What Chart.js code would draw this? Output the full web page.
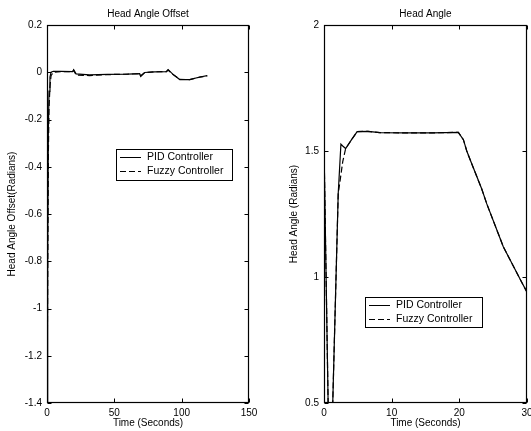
<!DOCTYPE html>
<html>
<head>
<meta charset="utf-8">
<script src="https://cdn.jsdelivr.net/npm/chart.js@4.4.1/dist/chart.umd.min.js"></script>
<style>
  html, body { margin: 0; padding: 0; background: #fff; overflow: hidden; }
  #wrap { position: relative; width: 531px; height: 431px; }
  canvas { position: absolute; top: 0; }
</style>
</head>
<body>
<div id="wrap">
  <canvas id="offsetCanvas" width="265" height="431" style="left:0"></canvas>
  <canvas id="angleCanvas" width="266" height="431" style="left:265px"></canvas>
</div>
<script>
// Left plot: head angle offset (radians) vs time (s)
const offsetTime  = [0, 0.5, 1.0, 1.5, 2.2, 3, 4.7, 10, 19.1, 19.8, 21.6, 31.5, 45, 60, 68.8, 69.6, 72.5, 80, 88.7, 89.9, 93.6, 98.6, 106, 113.5, 119];
const offsetPid   = [-1.4, -0.8, -0.25, -0.08, -0.02, 0.0, 0.004, 0.004, 0.003, 0.011, -0.007, -0.011, -0.009, -0.008, -0.006, -0.018, -0.001, 0.002, 0.003, 0.011, -0.009, -0.031, -0.031, -0.02, -0.014];
const offsetFuzzy = [-1.4, -0.9, -0.35, -0.15, -0.06, -0.015, 0.0, 0.003, 0.003, 0.009, -0.012, -0.014, -0.01, -0.008, -0.006, -0.015, -0.002, 0.002, 0.003, 0.009, -0.01, -0.03, -0.031, -0.021, -0.015];
const offsetXTicks = [0, 50, 100, 150];
const offsetYTicks = [-1.4, -1.2, -1, -0.8, -0.6, -0.4, -0.2, 0, 0.2];

// Right plot: head angle (radians) vs time (s)
const angleTime  = [0, 0.7, 1.0, 2.1, 2.5, 2.77, 3.2, 4.05, 4.9, 6.5, 8.25, 12, 16, 19.85, 20.6, 21.1, 21.6, 23.3, 24.06, 26.5, 29.2, 30];
const anglePid   = [1.52, 0.35, 0.2, 1.33, 1.527, 1.52, 1.51, 1.544, 1.577, 1.578, 1.573, 1.572, 1.572, 1.574, 1.545, 1.5, 1.465, 1.35, 1.29, 1.12, 0.98, 0.94];
const angleFuzzy = [1.52, 0.35, 0.2, 1.33, 1.406, 1.458, 1.51, 1.544, 1.577, 1.578, 1.573, 1.572, 1.572, 1.574, 1.545, 1.5, 1.465, 1.35, 1.29, 1.12, 0.98, 0.94];
const angleXTicks = [0, 10, 20, 30];
const angleYTicks = [0.5, 1, 1.5, 2];

const seriesNames = ['PID Controller', 'Fuzzy Controller'];

Chart.defaults.font.family = '"Liberation Sans", Arial, sans-serif';
Chart.defaults.font.size = 10;
Chart.defaults.color = '#000';

function toPoints(xs, ys) {
    return xs.map((x, i) => ({ x: x, y: ys[i] }));
}

// matlab style box, inward ticks on all sides and a boxed legend
const matlabFrame = {
    id: 'matlabFrame',
    afterDraw(chart, args, opts) {
        const ctx = chart.ctx;
        const a = chart.chartArea;
        const xs = chart.scales.x, ys = chart.scales.y;
        const l = Math.round(a.left) + 0.5, r = Math.round(a.right) - 0.5;
        const t = Math.round(a.top) + 0.5, b = Math.round(a.bottom) - 0.5;
        const len = 4;
        ctx.save();
        ctx.strokeStyle = '#000';
        ctx.lineWidth = 1.2;
        ctx.strokeRect(l, t, r - l, b - t);
        ctx.lineWidth = 1;
        ctx.beginPath();
        xs.ticks.forEach(tk => {
            const px = Math.round(xs.getPixelForValue(tk.value)) + 0.5;
            ctx.moveTo(px, b); ctx.lineTo(px, b - len);
            ctx.moveTo(px, t); ctx.lineTo(px, t + len);
        });
        ys.ticks.forEach(tk => {
            const py = Math.round(ys.getPixelForValue(tk.value)) + 0.5;
            ctx.moveTo(l, py); ctx.lineTo(l + len, py);
            ctx.moveTo(r, py); ctx.lineTo(r - len, py);
        });
        ctx.stroke();

        // legend
        const box = opts.box;
        ctx.fillStyle = '#fff';
        ctx.fillRect(box.x, box.y, box.w, box.h);
        ctx.strokeRect(box.x + 0.5, box.y + 0.5, box.w, box.h);
        ctx.font = '10.5px "Liberation Sans", Arial, sans-serif';
        ctx.textBaseline = 'middle';
        chart.data.datasets.forEach((ds, i) => {
            const y = Math.round(box.y + 8 + i * 13.5) + 0.5;
            ctx.setLineDash(ds.borderDash || []);
            ctx.beginPath();
            ctx.moveTo(box.x + 4, y);
            ctx.lineTo(box.x + 25, y);
            ctx.stroke();
            ctx.setLineDash([]);
            ctx.fillStyle = '#000';
            ctx.fillText(ds.label, box.x + 31, y);
        });
        ctx.restore();
    }
};

function makeChart(id, cfg) {
    return new Chart(document.getElementById(id), {
        type: 'line',
        data: {
            datasets: [
                {
                    label: seriesNames[0],
                    data: toPoints(cfg.time, cfg.pid),
                    borderColor: '#000',
                    borderWidth: 1.2,
                    pointRadius: 0,
                    tension: 0
                },
                {
                    label: seriesNames[1],
                    data: toPoints(cfg.time, cfg.fuzzy),
                    borderColor: '#000',
                    borderWidth: 1.2,
                    borderDash: [6, 3],
                    pointRadius: 0,
                    tension: 0
                }
            ]
        },
        options: {
            responsive: false,
            animation: false,
            events: [],
            layout: { padding: { left: 0, right: cfg.padRight, top: 0, bottom: 0 } },
            plugins: {
                legend: { display: false },
                tooltip: { enabled: false },
                title: {
                    display: true,
                    text: cfg.title,
                    fullSize: false,
                    color: '#000',
                    font: { size: 10, weight: 'normal' },
                    padding: { top: 8, bottom: 5 }
                },
                matlabFrame: { box: cfg.legendBox }
            },
            scales: {
                x: {
                    type: 'linear',
                    min: cfg.xTicks[0],
                    max: cfg.xTicks[cfg.xTicks.length - 1],
                    grid: { display: false, drawTicks: false },
                    border: { display: false },
                    afterBuildTicks: s => { s.ticks = cfg.xTicks.map(v => ({ value: v })); },
                    ticks: { padding: 4, maxRotation: 0, autoSkip: false, callback: v => String(v) },
                    title: { display: true, text: 'Time (Seconds)', padding: { top: 0, bottom: 2 } },
                    afterFit: s => { s.height = 28; s.paddingLeft = 0; s.paddingRight = 0; }
                },
                y: {
                    type: 'linear',
                    min: cfg.yTicks[0],
                    max: cfg.yTicks[cfg.yTicks.length - 1],
                    grid: { display: false, drawTicks: false },
                    border: { display: false },
                    afterBuildTicks: s => { s.ticks = cfg.yTicks.map(v => ({ value: v })); },
                    ticks: { padding: 5, autoSkip: false, callback: v => String(Math.round(v * 10) / 10) },
                    title: { display: true, text: cfg.yTitle, padding: { top: cfg.yTitlePad, bottom: 0 } },
                    afterFit: s => { s.width = cfg.yWidth; s.paddingTop = 0; s.paddingBottom = 0; }
                }
            }
        },
        plugins: [matlabFrame]
    });
}

makeChart('offsetCanvas', {
    time: offsetTime, pid: offsetPid, fuzzy: offsetFuzzy,
    xTicks: offsetXTicks, yTicks: offsetYTicks,
    title: 'Head Angle Offset', yTitle: 'Head Angle Offset(Radians)',
    yWidth: 47, padRight: 16, yTitlePad: 6.5,
    legendBox: { x: 116, y: 149, w: 116, h: 31 }
});

makeChart('angleCanvas', {
    time: angleTime, pid: anglePid, fuzzy: angleFuzzy,
    xTicks: angleXTicks, yTicks: angleYTicks,
    title: 'Head Angle', yTitle: 'Head Angle (Radians)',
    yWidth: 59, padRight: 4, yTitlePad: 23,
    legendBox: { x: 100, y: 297, w: 117, h: 30 }
});
</script>
</body>
</html>
